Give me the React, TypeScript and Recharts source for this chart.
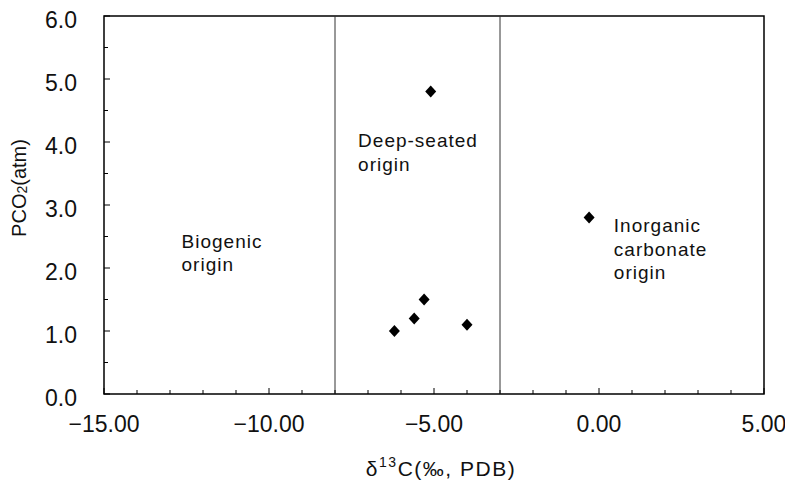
import React from 'react';
import {
    ScatterChart,
    Scatter,
    XAxis,
    YAxis,
    ReferenceLine,
    ReferenceArea,
} from 'recharts';

// d13C (per mil, PDB) and PCO2 (atm) of the samples
const deltaC13 = [-5.1, -5.3, -5.6, -6.2, -4.0, -0.3];
const pco2 = [4.8, 1.5, 1.2, 1.0, 1.1, 2.8];

// boundaries between origin fields
const originBounds = [-8, -3];

// field labels, anchored at their first line (data units)
const fieldLabelLines = [['Biogenic', 'origin'], ['Deep-seated', 'origin'], ['Inorganic', 'carbonate', 'origin']];
const fieldLabelX = [-12.65, -7.3, 0.45];
const fieldLabelY = [2.32, 3.92, 2.57];

const xTicks = [-15, -14, -13, -12, -11, -10, -9, -8, -7, -6, -5, -4, -3, -2, -1, 0, 1, 2, 3, 4, 5];
const xLabelled = [-15, -10, -5, 0, 5];
const yTicks = [0, 0.5, 1, 1.5, 2, 2.5, 3, 3.5, 4, 4.5, 5, 5.5, 6];
const yLabelled = [0, 1, 2, 3, 4, 5, 6];

const FONT = '"Liberation Sans", Arial, Helvetica, sans-serif';

const samples = deltaC13.map((x, i) => ({ x, y: pco2[i] }));
const fieldLabels = fieldLabelLines.map((lines, i) => ({ x: fieldLabelX[i], y: fieldLabelY[i], lines }));

const fmtX = (v: number) => (v < 0 ? '\u2212' + Math.abs(v).toFixed(2) : v.toFixed(2));

const XTick = (props: any) => {
    const { x, y, payload } = props;
    const major = xLabelled.includes(payload.value);
    return (
        <g>
            <line x1={x} y1={y} x2={x} y2={y - (major ? 6 : 4)} stroke="#000" strokeWidth={1} />
            {major && (
                <text x={x} y={y + 38} textAnchor="middle" fontSize={23} fontFamily={FONT} fill="#111">
                    {fmtX(payload.value)}
                </text>
            )}
        </g>
    );
};

const YTick = (props: any) => {
    const { x, y, payload } = props;
    const major = yLabelled.includes(payload.value);
    return (
        <g>
            <line x1={x} y1={y} x2={x + (major ? 6 : 4)} y2={y} stroke="#000" strokeWidth={1} />
            {major && (
                <text x={x - 27} y={y + 11.5} textAnchor="end" fontSize={23} fontFamily={FONT} fill="#111">
                    {payload.value.toFixed(1)}
                </text>
            )}
        </g>
    );
};

const Diamond = (props: any) => {
    const { cx, cy } = props;
    return <polygon points={`${cx},${cy - 6} ${cx + 5.5},${cy} ${cx},${cy + 6} ${cx - 5.5},${cy}`} fill="#000" />;
};

const FieldLabel = (props: any) => {
    const { cx, cy, payload } = props;
    return (
        <text x={cx} y={cy} fontSize={19} fontFamily={FONT} letterSpacing={1} fill="#111">
            {payload.lines.map((line: string, i: number) => (
                <tspan key={i} x={cx} dy={i === 0 ? 0 : 23.5}>
                    {line}
                </tspan>
            ))}
        </text>
    );
};

const XTitle = (props: any) => {
    const vb = props.viewBox || { x: 104, y: 394, width: 660 };
    return (
        <text x={vb.x + vb.width / 2 + 7} y={vb.y + 82} textAnchor="middle" fontSize={21} fontFamily={FONT} letterSpacing={1.5} fill="#111">
            {'\u03b4'}
            <tspan fontSize={14} dy={-9}>13</tspan>
            <tspan dy={9}>C(‰, PDB)</tspan>
        </text>
    );
};

const YTitle = (props: any) => {
    const vb = props.viewBox || { x: 44, y: 16, height: 378 };
    const cx = vb.x - 25;
    const cy = vb.y + vb.height / 2 - 17;
    return (
        <text x={cx} y={cy} transform={`rotate(-90 ${cx} ${cy})`} textAnchor="middle" dominantBaseline="central" fontSize={20} fontFamily={FONT} fill="#111">
            PCO<tspan fontSize={14} dy={3}>2</tspan>
            <tspan dy={-3}>(atm)</tspan>
        </text>
    );
};

export default function App() {
    return (
        <div style={{ position: 'absolute', left: 0, top: 0, background: '#fff' }}>
            <ScatterChart width={785} height={480} margin={{ top: 16, right: 21, bottom: 46, left: 44 }}>
                <XAxis
                    type="number"
                    dataKey="x"
                    domain={[-15, 5]}
                    ticks={xTicks}
                    interval={0}
                    tick={<XTick />}
                    tickLine={false}
                    tickSize={0}
                    tickMargin={0}
                    axisLine={false}
                    height={40}
                    allowDataOverflow
                    label={<XTitle />}
                />
                <YAxis
                    type="number"
                    dataKey="y"
                    domain={[0, 6]}
                    ticks={yTicks}
                    interval={0}
                    tick={<YTick />}
                    tickLine={false}
                    tickSize={0}
                    tickMargin={0}
                    axisLine={false}
                    width={60}
                    allowDataOverflow
                    label={<YTitle />}
                />
                <ReferenceArea x1={-15} x2={5} y1={0} y2={6} fill="none" stroke="#000" strokeWidth={1.5} />
                {originBounds.map((b) => (
                    <ReferenceLine key={b} x={b} stroke="#333" strokeWidth={1} />
                ))}
                <Scatter data={fieldLabels} shape={<FieldLabel />} isAnimationActive={false} legendType="none" />
                <Scatter data={samples} shape={<Diamond />} isAnimationActive={false} />
            </ScatterChart>
        </div>
    );
}
